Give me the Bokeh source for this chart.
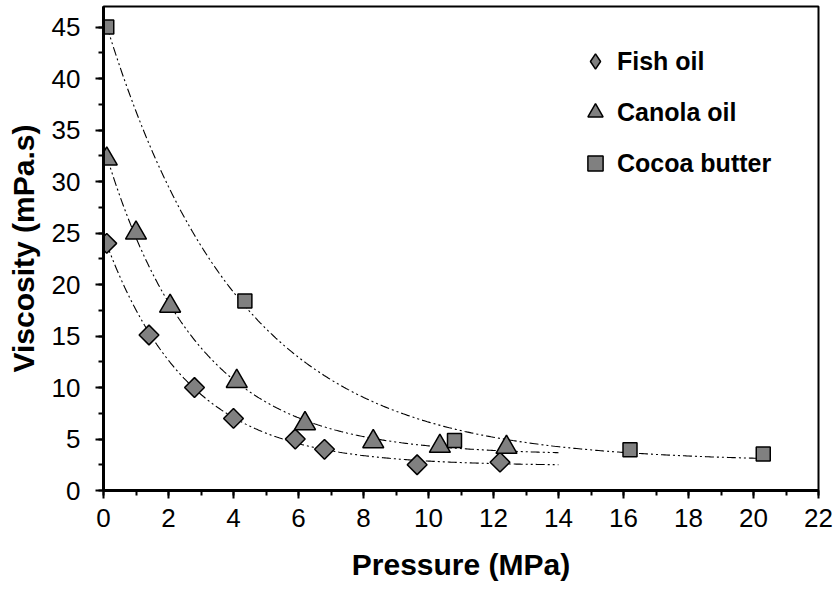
import numpy as np
from bokeh.plotting import figure
from bokeh.models import Range1d, SingleIntervalTicker, Legend, LegendItem
from bokeh.embed import file_html
from bokeh.resources import INLINE

# Measured viscosity (mPa.s) against pressure (MPa)
fish_p = [0.1, 1.4, 2.8, 4.0, 5.9, 6.8, 9.65, 12.2]
fish_v = [24.0, 15.1, 10.0, 7.0, 5.0, 4.0, 2.5, 2.75]
canola_p = [0.1, 1.0, 2.05, 4.1, 6.2, 8.3, 10.35, 12.4]
canola_v = [32.2, 25.0, 17.9, 10.6, 6.5, 4.75, 4.3, 4.2]
cocoa_p = [0.1, 4.35, 10.8, 16.2, 20.3]
cocoa_v = [45.0, 18.4, 4.85, 3.95, 3.55]

series_names = ["Fish oil", "Canola oil", "Cocoa butter"]
trend_end = [14.0, 14.0, 20.3]   # last pressure covered by each trend line

FONT = "Liberation Sans"
FILL = "#808080"


def decay_fit(x, y):
    """Least-squares fit of y = a*exp(-b*x) + c (grid search over b)."""
    x = np.asarray(x, dtype=float)
    y = np.asarray(y, dtype=float)
    best = None
    for b in np.linspace(0.02, 1.5, 3000):
        A = np.column_stack([np.exp(-b * x), np.ones_like(x)])
        coef, *_ = np.linalg.lstsq(A, y, rcond=None)
        r = float(np.sum((A @ coef - y) ** 2))
        if best is None or r < best[0]:
            best = (r, b, coef)
    _, b, (a, c) = best
    return lambda t: a * np.exp(-b * t) + c


p = figure(width=836, height=598,
           x_range=Range1d(0, 22), y_range=Range1d(0, 47),
           output_backend="svg", toolbar_location=None,
           min_border_left=103, min_border_right=18,
           min_border_top=6, min_border_bottom=108)

p.xgrid.visible = False
p.ygrid.visible = False
p.outline_line_color = "black"
p.outline_line_width = 2
p.background_fill_color = "white"
p.border_fill_color = "white"

p.xaxis.ticker = SingleIntervalTicker(interval=2, num_minor_ticks=2)
p.yaxis.ticker = SingleIntervalTicker(interval=5, num_minor_ticks=2)
p.xaxis.axis_label = "Pressure (MPa)"
p.yaxis.axis_label = "Viscosity (mPa.s)"

for ax in (p.xaxis[0], p.yaxis[0]):
    ax.axis_line_width = 3
    ax.axis_line_color = "black"
    ax.major_tick_line_width = 2
    ax.minor_tick_line_width = 2
    ax.major_tick_line_color = "black"
    ax.minor_tick_line_color = "black"
    ax.major_tick_in = 0
    ax.major_tick_out = 8
    ax.minor_tick_in = 0
    ax.minor_tick_out = 5
    ax.major_label_text_font = FONT
    ax.major_label_text_font_size = "26px"
    ax.major_label_text_color = "black"
    ax.axis_label_text_font = FONT
    ax.axis_label_text_font_size = "30px"
    ax.axis_label_text_font_style = "bold"
    ax.axis_label_text_color = "black"

p.xaxis.major_label_standoff = 10
p.yaxis.major_label_standoff = 15
p.xaxis.axis_label_standoff = 18
p.yaxis.axis_label_standoff = 9

# Trend lines (dash-dot-dot), drawn beneath the markers
all_series = [(fish_p, fish_v), (canola_p, canola_v), (cocoa_p, cocoa_v)]
for (px, pv), xend in zip(all_series, trend_end):
    f = decay_fit(px, pv)
    t = np.linspace(px[0], xend, 300)
    p.line(t, f(t), line_color="black", line_width=1.1, line_dash="9 3 2 3 2 3")

marker_style = dict(fill_color=FILL, line_color="black", line_width=1.5)
r_fish = p.scatter(fish_p, fish_v, marker="square", angle=np.pi / 4, size=14,
                   **marker_style)
r_canola = p.scatter(canola_p, canola_v, marker="triangle", size=21, **marker_style)
r_cocoa = p.scatter(cocoa_p, cocoa_v, marker="square", size=14, **marker_style)

# legend keys: the fish-oil key needs an upright diamond (never drawn in the frame)
key_fish = p.scatter(x=[float("nan")], y=[float("nan")], marker="diamond",
                     size=14, **marker_style)

legend = Legend(
    items=[LegendItem(label=n, renderers=[r])
           for n, r in zip(series_names, [key_fish, r_canola, r_cocoa])],
    location=(473, 308),
    glyph_width=38, glyph_height=38, spacing=13, label_standoff=3,
    padding=0, margin=0,
    border_line_alpha=0, background_fill_alpha=0,
    label_text_font=FONT, label_text_font_style="bold",
    label_text_font_size="25px", label_text_color="black",
)
p.add_layout(legend)

open("out.html", "w").write(file_html(p, INLINE))
